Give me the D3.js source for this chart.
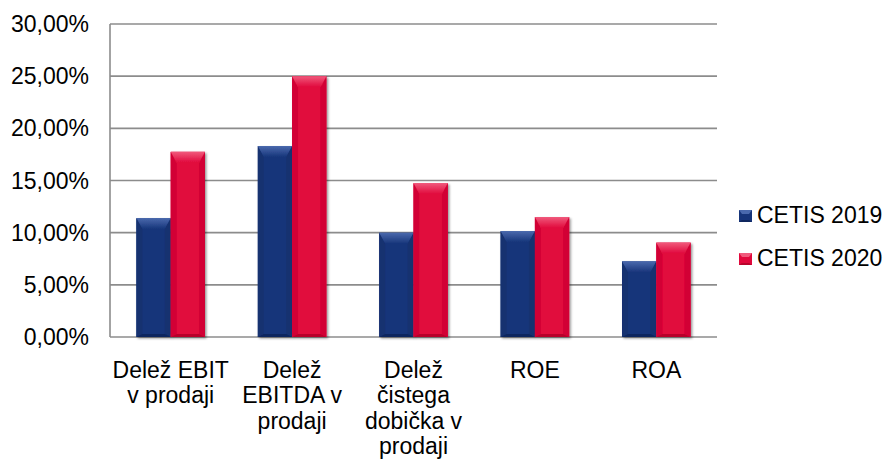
<!DOCTYPE html>
<html>
<head>
<meta charset="utf-8">
<script src="https://cdn.jsdelivr.net/npm/d3@7"></script>
<style>
  body { margin: 0; background: #fff; }
  text { font-family: "Liberation Sans", Arial, sans-serif; fill: #000; }
</style>
</head>
<body>
<div class="chart"></div>
<script>
// data
var categories = [
    ["Delež EBIT", "v prodaji"],
    ["Delež", "EBITDA v", "prodaji"],
    ["Delež", "čistega", "dobička v", "prodaji"],
    ["ROE"],
    ["ROA"]
];
var seriesNames = ["CETIS 2019", "CETIS 2020"];
var cetis2019 = [11.4, 18.3, 10.0, 10.15, 7.25];
var cetis2020 = [17.75, 25.0, 14.75, 11.5, 9.05];
var yTicks = [0, 5, 10, 15, 20, 25, 30];

var colors = {
    "CETIS 2019": {id: "b", main: "#17357a", top: "#4a69ad", side: "#143070", bot: "#0f275e"},
    "CETIS 2020": {id: "r", main: "#e1083c", top: "#f05a7c", side: "#d20635", bot: "#b8042c"}
};

var W = 888, H = 461;
var plotLeft = 110, plotRight = 717, plotTop = 24, plotBottom = 337;

var svg = d3.select(".chart").append("svg")
    .attr("width", W)
    .attr("height", H);

var defs = svg.append("defs");
var f = defs.append("filter").attr("id", "shadow")
    .attr("x", "-20%").attr("y", "-20%").attr("width", "150%").attr("height", "150%");
f.append("feDropShadow")
    .attr("dx", 1.5).attr("dy", 1.5).attr("stdDeviation", 1.2)
    .attr("flood-color", "#000").attr("flood-opacity", 0.4);

// top bevel gradients
seriesNames.forEach(function(s) {
    var c = colors[s];
    var gr = defs.append("linearGradient").attr("id", "top" + c.id)
        .attr("x1", 0).attr("y1", 0).attr("x2", 0).attr("y2", 1);
    gr.append("stop").attr("offset", "0%").attr("stop-color", c.top);
    gr.append("stop").attr("offset", "100%").attr("stop-color", c.main);
});

var keys = categories.map(function(c) { return c.join(" "); });

var x0 = d3.scaleBand().domain(keys).range([plotLeft, plotRight]).padding(0);
var x1 = d3.scaleBand().domain(seriesNames).range([0, x0.bandwidth()])
    .paddingInner(0).paddingOuter(0.77);
var y = d3.scaleLinear().domain([0, 30]).range([plotBottom, plotTop]);

// gridlines
svg.append("g")
    .selectAll("line")
    .data(yTicks)
    .enter().append("line")
    .attr("x1", plotLeft).attr("x2", plotRight)
    .attr("y1", function(d) { return y(d); })
    .attr("y2", function(d) { return y(d); })
    .style("stroke", "#8c8c8c")
    .style("stroke-width", "1.6px");

// left axis line
svg.append("line")
    .attr("x1", plotLeft).attr("x2", plotLeft)
    .attr("y1", y(30)).attr("y2", y(0))
    .style("stroke", "#8c8c8c")
    .style("stroke-width", "1.6px");

// y tick labels
svg.append("g")
    .selectAll("text")
    .data(yTicks)
    .enter().append("text")
    .attr("x", 89)
    .attr("y", function(d) { return y(d) + 8; })
    .attr("text-anchor", "end")
    .style("font-size", "23px")
    .text(function(d) { return d3.format(".2f")(d).replace(".", ",") + "%"; });

// bars
var rows = [];
for (k = 0; k < keys.length; k++) {
    rows.push({cat: keys[k], name: seriesNames[0], value: cetis2019[k]});
    rows.push({cat: keys[k], name: seriesNames[1], value: cetis2020[k]});
}

function bevelBar(g, bx, by, bw, bh, c) {
    var bt = Math.min(11, bh / 2), bs = 6, bb = 3;
    var grp = g.append("g").attr("filter", "url(#shadow)");
    grp.append("rect")
        .attr("x", bx).attr("y", by).attr("width", bw).attr("height", bh)
        .style("fill", c.main);
    var p = function(pts) { return pts.map(function(q) { return q.join(","); }).join(" "); };
    grp.append("polygon")
        .attr("points", p([[bx, by], [bx + bs, by + bt], [bx + bs, by + bh - bb], [bx, by + bh]]))
        .style("fill", c.side);
    grp.append("polygon")
        .attr("points", p([[bx + bw, by], [bx + bw - bs, by + bt], [bx + bw - bs, by + bh - bb], [bx + bw, by + bh]]))
        .style("fill", c.side);
    grp.append("polygon")
        .attr("points", p([[bx, by + bh], [bx + bs, by + bh - bb], [bx + bw - bs, by + bh - bb], [bx + bw, by + bh]]))
        .style("fill", c.bot);
    grp.append("polygon")
        .attr("points", p([[bx, by], [bx + bw, by], [bx + bw - bs, by + bt], [bx + bs, by + bt]]))
        .style("fill", "url(#top" + c.id + ")");
}

var barG = svg.append("g");
rows.forEach(function(d) {
    var bx = x0(d.cat) + x1(d.name);
    var by = y(d.value);
    bevelBar(barG, bx, by, x1.bandwidth(), y(0) - by, colors[d.name]);
});

// category labels
var lab = svg.append("g")
    .selectAll("text")
    .data(categories)
    .enter().append("text")
    .attr("text-anchor", "middle")
    .style("font-size", "23px")
    .attr("transform", function(d, i) {
        return "translate(" + (x0(keys[i]) + x0.bandwidth() / 2) + ",378)";
    });
lab.selectAll("tspan")
    .data(function(d) { return d; })
    .enter().append("tspan")
    .attr("x", 0)
    .attr("y", function(d, i) { return i * 25.3; })
    .text(function(d) { return d; });

// legend
var leg = svg.append("g")
    .selectAll("g")
    .data(seriesNames)
    .enter().append("g")
    .attr("transform", function(d, i) { return "translate(739," + (210 + i * 43) + ")"; });
leg.each(function(d) {
    var c = colors[d];
    var g = d3.select(this);
    g.append("rect").attr("width", 13).attr("height", 12).style("fill", c.main);
    g.append("polygon").attr("points", "0,0 13,0 10,4 3,4").style("fill", c.top);
    g.append("polygon").attr("points", "0,12 13,12 10,10 3,10").style("fill", c.bot);
});
leg.append("text")
    .attr("x", 18)
    .attr("y", 13)
    .style("font-size", "23px")
    .text(function(d) { return d; });
</script>
</body>
</html>
